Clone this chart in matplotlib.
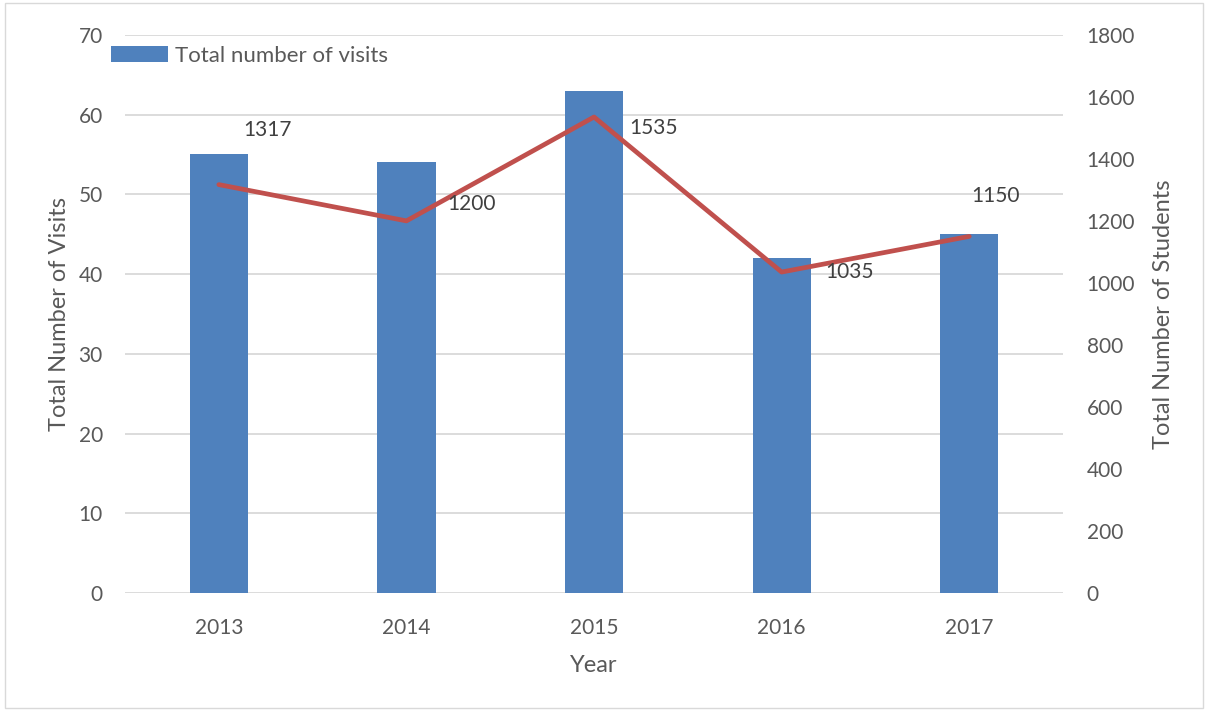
import matplotlib.pyplot as plt
from matplotlib.patches import Rectangle

years = ["2013", "2014", "2015", "2016", "2017"]
visits = [55, 54, 63, 42, 45]
students = [1317, 1200, 1535, 1035, 1150]

# label offsets (points) for the student counts
label_offsets = [(35, 39), (47, 12), (43, -8), (49, 0), (19, 29)]

plt.rcParams["font.family"] = ["Lato", "DejaVu Sans"]
text_color = "#595959"
grid_color = "#D9D9D9"

fig = plt.figure(figsize=(12.08, 7.11), dpi=100)
ax1 = fig.add_axes([0.1035, 0.166, 0.7765, 0.785])
ax2 = ax1.twinx()

x = list(range(len(years)))
ax1.bar(x, visits, width=0.31, color="#4F81BD", label="Total number of visits", zorder=2)
ax2.plot(x, students, color="#C0504D", linewidth=3.4, solid_capstyle="round", zorder=3)

for xi, val, off in zip(x, students, label_offsets):
    ax2.annotate(str(val), (xi, val), xytext=off, textcoords="offset points",
                 ha="center", va="center", fontsize=15, color="#404040")

ax1.set_xlim(-0.5, len(years) - 0.5)
ax1.set_ylim(0, 70)
ax1.set_yticks(range(0, 71, 10))
ax2.set_ylim(0, 1800)
ax2.set_yticks(range(0, 1801, 200))
ax1.set_xticks(x)
ax1.set_xticklabels(years)

ax1.grid(axis="y", color=grid_color, linewidth=1.3, zorder=0)
ax1.set_axisbelow(True)
for ax in (ax1, ax2):
    for side in ("top", "left", "right", "bottom"):
        ax.spines[side].set_visible(False)
    ax.tick_params(length=0, labelsize=15, labelcolor=text_color)
ax1.tick_params(axis="x", pad=18)
ax1.tick_params(axis="y", pad=16)
ax2.tick_params(axis="y", pad=17)

ax1.set_xlabel("Year", fontsize=17, color=text_color, labelpad=12)
ax1.set_ylabel("Total Number of Visits", fontsize=17, color=text_color, labelpad=6)
ax2.set_ylabel("Total Number of Students", fontsize=17, color=text_color, labelpad=13)

fig.legend(loc="upper left", bbox_to_anchor=(0.075, 0.964), frameon=False,
           fontsize=16, labelcolor=text_color, handlelength=2.6, handleheight=0.75,
           handletextpad=0.3)

fig.patches.append(Rectangle((0.004, 0.004), 0.992, 0.992, transform=fig.transFigure,
                             fill=False, edgecolor="#D9D9D9", linewidth=1))

fig.savefig("out.png", dpi=100)
